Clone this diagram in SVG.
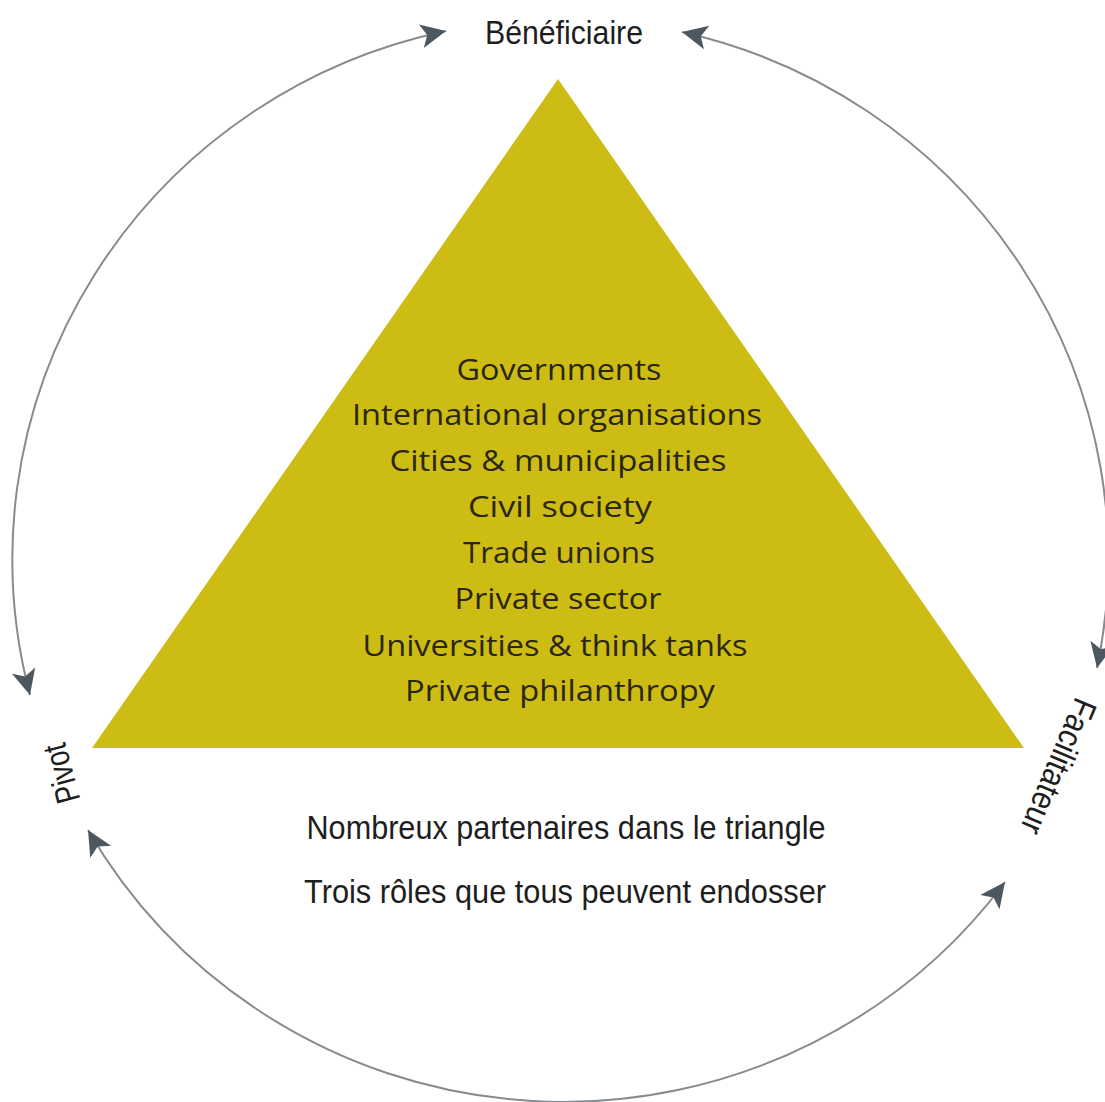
<svg xmlns="http://www.w3.org/2000/svg" width="1105" height="1102" viewBox="0 0 1105 1102">
<style>
.inner{font-family:"Open Sans","Noto Sans",sans-serif;font-size:30px;font-weight:500;fill:#2a2610;text-anchor:middle}
.lbl{font-family:"Liberation Sans",Arial,sans-serif;font-size:34px;fill:#1e1e1e;text-anchor:middle}
.arc{fill:none;stroke:#868b90;stroke-width:2}
</style>
<defs>
<marker id="ah" markerUnits="userSpaceOnUse" markerWidth="30" markerHeight="30" viewBox="-23 -12 25 24" refX="0" refY="0" orient="auto-start-reverse">
<path d="M0,0 L-21,-10 L-16,0 L-21,10 Z" fill="#4b5861"/>
</marker>
</defs>
<rect width="1105" height="1102" fill="#fff"/>
<g id="triangle">
<polygon points="558,79 92,748 1024,748" fill="#cdbc14"/>
<text class="inner" x="559" y="380" textLength="205" lengthAdjust="spacingAndGlyphs">Governments</text>
<text class="inner" x="557" y="425" textLength="410" lengthAdjust="spacingAndGlyphs">International organisations</text>
<text class="inner" x="558" y="471" textLength="337" lengthAdjust="spacingAndGlyphs">Cities &amp; municipalities</text>
<text class="inner" x="560" y="517" textLength="184" lengthAdjust="spacingAndGlyphs">Civil society</text>
<text class="inner" x="559" y="563" textLength="192" lengthAdjust="spacingAndGlyphs">Trade unions</text>
<text class="inner" x="558" y="609" textLength="207" lengthAdjust="spacingAndGlyphs">Private sector</text>
<text class="inner" x="555" y="656" textLength="385" lengthAdjust="spacingAndGlyphs">Universities &amp; think tanks</text>
<text class="inner" x="560" y="701" textLength="310" lengthAdjust="spacingAndGlyphs">Private philanthropy</text>
</g>
<g id="beneficiaire">
<text class="lbl" x="564" y="44" textLength="158" lengthAdjust="spacingAndGlyphs">Bénéficiaire</text>
</g>
<g id="pivot">
<text class="lbl" transform="translate(63,773) rotate(-105)" x="0" y="10" font-size="29" textLength="60" lengthAdjust="spacingAndGlyphs">Pivot</text>
</g>
<g id="facilitateur">
<text class="lbl" transform="translate(1057,766) rotate(113)" x="0" y="10" font-size="29" textLength="144" lengthAdjust="spacingAndGlyphs">Facilitateur</text>
</g>
<g id="caption">
<text class="lbl" x="566" y="839" textLength="519" lengthAdjust="spacingAndGlyphs">Nombreux partenaires dans le triangle</text>
<text class="lbl" x="565" y="903" textLength="522" lengthAdjust="spacingAndGlyphs">Trois rôles que tous peuvent endosser</text>
</g>
<g id="connectors">
<path class="arc" d="M30,695 A548,540 0 0 1 446,31" marker-start="url(#ah)" marker-end="url(#ah)"/>
<path class="arc" d="M682,32 A548,540 0 0 1 1097,668" marker-start="url(#ah)" marker-end="url(#ah)"/>
<path class="arc" d="M1005,882 A548,540 0 0 1 88,830" marker-start="url(#ah)" marker-end="url(#ah)"/>
</g>
</svg>
